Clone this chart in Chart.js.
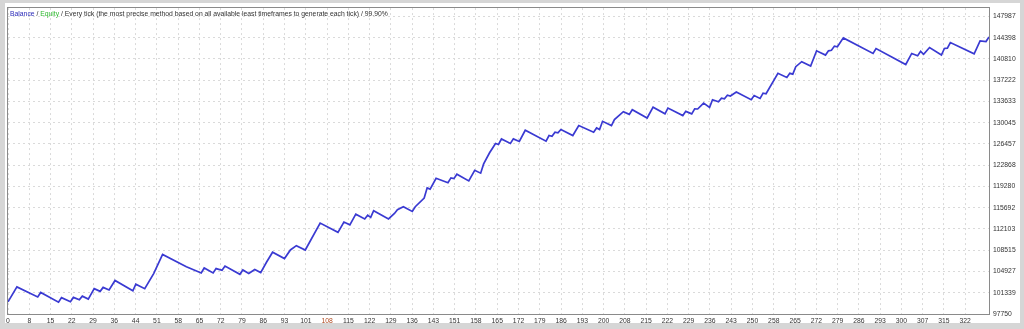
<!DOCTYPE html>
<html>
<head>
<meta charset="utf-8">
<script src="https://cdn.jsdelivr.net/npm/chart.js@4"></script>
<style>
  body { margin: 0; background: #d6d6d6; }
  #panel { position: absolute; left: 5px; top: 3px; width: 1015px; height: 320px; background: #fff; }
  #wrap { position: absolute; left: 0; top: 0; width: 1024px; height: 329px; }
</style>
</head>
<body>
<div id="panel"></div>
<div id="wrap"><canvas id="balance-chart" width="1024" height="329"></canvas></div>
<script>
// Trade numbers where the balance curve changes direction
const tradeIdx = [0, 3, 10, 11, 17, 18, 21, 22, 24, 25, 27, 29, 31, 32, 34, 36, 42, 43, 46, 49, 52, 60, 65, 66, 69, 70, 72, 73, 78, 79, 81, 83, 85, 87, 89, 93, 95, 97, 100, 105, 111, 113, 115, 117, 120, 121, 122, 123, 128, 130, 131, 133, 136, 137, 140, 141, 142, 144, 148, 149, 150, 151, 155, 157, 159, 160, 162, 164, 165, 166, 169, 170, 172, 174, 181, 182, 183, 184, 185, 186, 190, 192, 197, 198, 199, 200, 203, 204, 207, 209, 210, 215, 217, 221, 222, 227, 228, 230, 231, 232, 234, 236, 237, 239, 240, 241, 242, 243, 245, 250, 251, 253, 254, 255, 259, 262, 263, 264, 265, 267, 270, 272, 275, 276, 277, 278, 279, 281, 291, 292, 302, 304, 306, 307, 308, 310, 314, 315, 316, 317, 325, 327, 329, 330];

// Account balance at those trades
const balance = [99812, 102328, 100634, 101389, 99745, 100517, 99812, 100550, 100148, 100768, 100265, 102026, 101573, 102244, 101808, 103418, 101657, 102780, 102026, 104575, 107811, 105715, 104675, 105514, 104675, 105413, 105128, 105849, 104457, 105178, 104575, 105245, 104742, 106520, 108180, 107107, 108565, 109286, 108549, 113093, 111533, 113277, 112807, 114601, 113797, 114434, 114066, 115189, 113797, 114719, 115356, 115859, 115072, 115859, 117318, 119045, 118827, 120672, 119917, 120722, 120605, 121343, 120219, 122013, 121527, 123086, 124965, 126541, 126374, 127313, 126541, 127313, 126876, 128771, 126926, 127882, 127765, 128435, 128318, 128889, 127882, 129559, 128435, 129156, 128888, 130280, 129559, 130565, 131906, 131454, 132242, 130834, 132661, 131537, 132510, 131252, 131957, 131537, 132376, 132360, 133349, 132627, 133919, 133584, 134188, 134087, 134673, 134540, 135225, 133919, 134640, 134137, 135025, 134924, 138380, 137692, 138380, 138246, 139502, 140341, 139620, 142185, 141464, 142185, 142269, 142973, 142856, 144365, 141733, 142555, 139871, 141733, 141347, 142085, 141598, 142739, 141464, 142571, 142638, 143577, 141682, 143862, 143745, 144533];

// Axis labels as printed by the tester
const xTickLabels = [0, 8, 15, 22, 29, 36, 44, 51, 58, 65, 72, 79, 86, 93, 101, 108, 115, 122, 129, 136, 143, 151, 158, 165, 172, 179, 186, 193, 200, 208, 215, 222, 229, 236, 243, 250, 258, 265, 272, 279, 286, 293, 300, 307, 315, 322];
const yTickLabels = [97750, 101339, 104927, 108515, 112103, 115692, 119280, 122868, 126457, 130045, 133633, 137222, 140810, 144398, 147987];

const xStep = 322 / (xTickLabels.length - 1);
const FONT = 'Liberation Sans';
const GRID = '#dadada';

// Plot frame + header text drawn inside the plot, like the tester window
const testerDecor = {
    id: 'testerDecor',
    afterDraw(chart) {
        const ctx = chart.ctx;
        const a = chart.chartArea;
        ctx.save();
        ctx.strokeStyle = '#8a8a8a';
        ctx.lineWidth = 1;
        ctx.strokeRect(Math.round(a.left) - 0.5, Math.round(a.top) - 0.5,
            Math.round(a.right - a.left) + 1, Math.round(a.bottom - a.top) + 1);

        ctx.font = '6.8px "' + FONT + '"';
        ctx.textBaseline = 'middle';
        let x = a.left + 2;
        const y = a.top + 6.5;
        const parts = [
            ['Balance', '#2a2ab8'],
            [' / ', '#333'],
            ['Equity', '#2fb82f'],
            [' / Every tick (the most precise method based on all available least timeframes to generate each tick) / 99.90%', '#333']
        ];
        parts.forEach(p => {
            ctx.fillStyle = p[1];
            ctx.fillText(p[0], x, y);
            x += ctx.measureText(p[0]).width;
        });
        ctx.restore();
    }
};

document.addEventListener('DOMContentLoaded', function() {
    const canvas = document.getElementById('balance-chart');
    const points = tradeIdx.map((t, i) => ({ x: t, y: balance[i] }));

    new Chart(canvas, {
        type: 'line',
        data: {
            datasets: [{
                label: 'Balance',
                data: points,
                borderColor: '#3a3ad2',
                borderWidth: 1.7,
                pointRadius: 0,
                tension: 0,
                fill: false
            }]
        },
        options: {
            responsive: false,
            animation: false,
            layout: { padding: { left: 8, top: 6, right: 0, bottom: 0 } },
            plugins: {
                legend: { display: false },
                tooltip: { enabled: false }
            },
            scales: {
                x: {
                    type: 'linear',
                    min: 0,
                    max: 330,
                    afterBuildTicks: scale => {
                        scale.ticks = xTickLabels.map((l, i) => ({ value: i * xStep }));
                    },
                    afterFit: scale => { scale.height = 15; },
                    grid: { color: GRID, drawTicks: false, borderDash: [2, 3] },
                    border: { display: false, dash: [2, 3] },
                    ticks: {
                        autoSkip: false,
                        maxRotation: 0,
                        padding: 3,
                        font: { family: FONT, size: 6.8 },
                        color: ctx => xTickLabels[ctx.index] === 108 ? '#b04a20' : '#333',
                        callback: (v, i) => String(xTickLabels[i])
                    }
                },
                y: {
                    position: 'right',
                    min: 97750,
                    max: 149395,
                    afterBuildTicks: scale => {
                        scale.ticks = yTickLabels.map(v => ({ value: v }));
                    },
                    afterFit: scale => { scale.width = 35; },
                    grid: { color: GRID, drawTicks: false, borderDash: [2, 3] },
                    border: { display: false, dash: [2, 3] },
                    ticks: {
                        padding: 4,
                        font: { family: FONT, size: 6.8 },
                        color: '#333',
                        callback: v => String(v)
                    }
                }
            }
        },
        plugins: [testerDecor]
    });
});
</script>
</body>
</html>
